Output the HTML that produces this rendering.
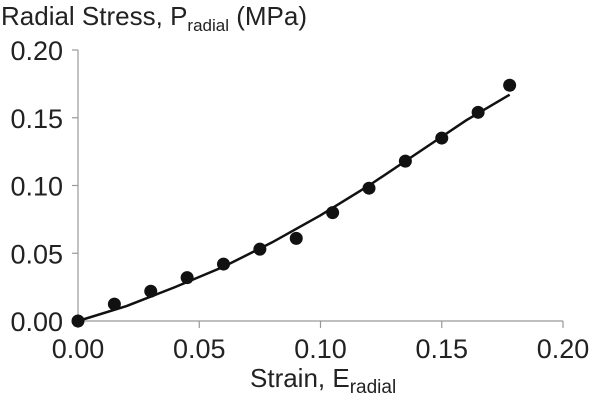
<!DOCTYPE html>
<html><head><meta charset="utf-8"><style>
html,body{margin:0;padding:0;background:#fff;}
svg{display:block;font-family:"Liberation Sans",Arial,sans-serif;}
</style></head><body>
<svg id="chart" width="603" height="403" viewBox="0 0 603 403">
<text x="1" y="25" font-size="26" fill="#222">Radial Stress, P<tspan font-size="17" dy="6">radial</tspan><tspan dy="-6"> (MPa)</tspan></text>
<text x="250" y="387" font-size="26" fill="#222">Strain, E<tspan font-size="19" dy="6">radial</tspan></text>
<g id="axes"></g><g id="curve"></g><g id="points"></g>
</svg>
<script>
const xTicks=[0,0.05,0.10,0.15,0.20];
const xTickLabels=["0.00","0.05","0.10","0.15","0.20"];
const yTicks=[0,0.05,0.10,0.15,0.20];
const yTickLabels=["0.00","0.05","0.10","0.15","0.20"];
const strainPts=[0,0.015,0.03,0.045,0.06,0.075,0.09,0.105,0.12,0.135,0.15,0.165,0.178];
const stressPts=[0,0.0125,0.022,0.032,0.042,0.053,0.061,0.080,0.098,0.118,0.135,0.154,0.174];
const fitStrain=[0,0.02,0.04,0.06,0.08,0.10,0.12,0.14,0.16,0.178];
const fitStress=[0,0.011,0.025,0.040,0.058,0.078,0.100,0.124,0.148,0.167];
const X=v=>78+v/0.2*485, Y=v=>321-v/0.2*271;
const NS="http://www.w3.org/2000/svg";
function mk(t,a,p){const e=document.createElementNS(NS,t);for(const k in a)e.setAttribute(k,a[k]);p.appendChild(e);return e;}
const ax=document.getElementById('axes');
let l=mk('line',{x1:78,y1:321,x2:563,y2:321,stroke:'#999','stroke-width':1.2},ax);


l=mk('line',{x1:78,y1:321,x2:78,y2:Y(0.2),stroke:'#999','stroke-width':1.2},ax);


xTicks.forEach((v,i)=>{
 const t=mk('line',{x1:X(v),y1:321,x2:X(v),y2:328,stroke:'#999','stroke-width':1.2},ax);
 
 
 const s=mk('text',{x:X(v),y:358,'font-size':27,'text-anchor':'middle',fill:'#222'},ax);
 s.textContent=xTickLabels[i];
 
 
});
yTicks.forEach((v,i)=>{
 const t=mk('line',{x1:72,y1:Y(v),x2:78,y2:Y(v),stroke:'#999','stroke-width':1.2},ax);
 
 
 const s=mk('text',{x:63,y:Y(v)+10,'font-size':27,'text-anchor':'end',fill:'#222'},ax);
 s.textContent=yTickLabels[i];
 
 
});
const p=mk('path',{d:fitStrain.map((v,i)=>(i?'L':'M')+X(v)+','+Y(fitStress[i])).join(' '),fill:'none',stroke:'#111','stroke-width':2.5},document.getElementById('curve'));


const pg=document.getElementById('points');
strainPts.forEach((v,i)=>{
 const c=mk('circle',{cx:X(v),cy:Y(stressPts[i]),r:6.5,fill:'#111'},pg);
 
 
});
</script>
</body></html>
